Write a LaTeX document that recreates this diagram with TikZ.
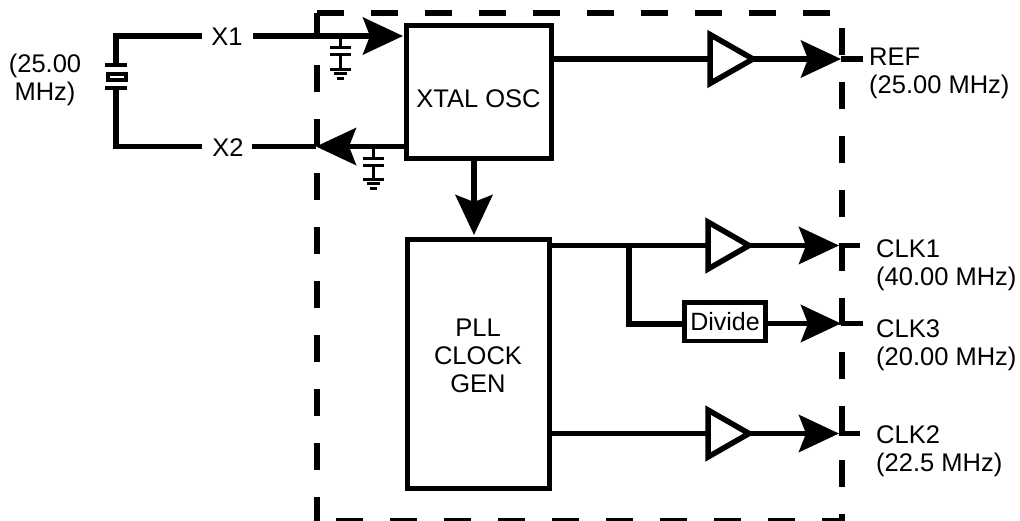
\documentclass[tikz,border=0pt]{standalone}
\usepackage{fontspec}
\setmainfont{Liberation Sans}
\usetikzlibrary{arrows.meta}
\tikzset{
  wire/.style={line width=5.5pt,draw=black},
  thin wire/.style={line width=3pt,draw=black},
  big/.tip={Stealth[length=40pt,width=37pt,inset=7pt]},
  arrowwire/.style={wire,-{big}},
  block/.style={draw=black,line width=5pt,fill=white,inner sep=0pt,align=center,font=\fontsize{25.5}{28}\selectfont},
  lab/.style={inner sep=0pt,align=left,font=\fontsize{25.5}{28}\selectfont},
  clab/.style={inner sep=0pt,align=center,font=\fontsize{25.5}{28}\selectfont},
  bound/.style={line width=5.5pt,draw=black,dash pattern=on 27pt off 27pt},
  buf/.style={line width=5.5pt,draw=black,fill=white,miter limit=10}
}
\begin{document}
\begin{tikzpicture}[x=1pt,y=-1pt]
\useasboundingbox (0,0) rectangle (1020,520);
% boundary
\draw[bound] (317,13) -- (842,13) -- (842,520.5) -- (317,520.5);
\draw[bound,dash phase=2pt] (317,13) -- (317,521);
% blocks
\node[block,minimum width=145pt,minimum height=133pt] (xtal) at (478.5,91.5) {\raisebox{-15.5pt}[0pt][0pt]{XTAL OSC}};
\node[block,minimum width=142pt,minimum height=249pt] (pll) at (478,363.5) {\raisebox{-1.5pt}[0pt][0pt]{\begin{tabular}{@{}c@{}}PLL\\CLOCK\\GEN\end{tabular}}};
\node[block,font=\fontsize{25}{28}\selectfont,line width=4.5pt,minimum width=81pt,minimum height=38.5pt] (div) at (725,321.5) {Divide};
% buffers
\coordinate (refin) at (710,59); \coordinate (refout) at (753,59);
\coordinate (c1in) at (708,245.5); \coordinate (c1out) at (749,245.5);
\coordinate (c2in) at (708,433.5); \coordinate (c2out) at (749,433.5);
% external coordinates
\coordinate (cryT) at (116,36); \coordinate (cryB) at (116,146.5);
\coordinate (x1w) at (202,36); \coordinate (x2w) at (202,146.5);
\coordinate (x1e) at (253,36); \coordinate (x2e) at (252,146.5);
\coordinate (x1tip) at (403,36); \coordinate (x2tip) at (316,146.5);
\coordinate (xout) at (552,59);
\coordinate (reftip) at (841,59); \coordinate (refstub) at (863,59);
\coordinate (c1tip) at (839,245.5); \coordinate (c1stub) at (860,245.5);
\coordinate (c3tip) at (841,323.5); \coordinate (c3stub) at (863,323.5);
\coordinate (c2tip) at (839,433.5); \coordinate (c2stub) at (860,433.5);
\coordinate (br) at (629,245.5); \coordinate (brd) at (629,324);
% crystal
\node[draw=black,line width=4pt,minimum width=18pt,minimum height=6pt,inner sep=0pt] (cry) at (116.5,77) {};
\coordinate (pT) at (116,65); \coordinate (pB) at (116,88);
\draw[wire] (x1w) -- (cryT) -- (pT);
\draw[wire] (x2w) -- (cryB) -- (pB);
\draw[line width=4pt] (105,65) -- (127,65);
\draw[line width=4pt] (105,88) -- (127,88);
% connectors
\draw[arrowwire] (x1e) -- (x1tip);
\draw[arrowwire] (xtal.west |- x2tip) -- (x2tip);
\draw[wire] (x2tip) -- (x2e);
\draw[arrowwire] (474,158) -- (474,235);
\draw[wire] (xout) -- (refin);
\draw[arrowwire] (refout) -- (reftip);
\draw[wire] (reftip) -- (refstub);
\draw[wire] (pll.east |- c1in) -- (c1in);
\draw[arrowwire] (c1out) -- (c1tip);
\draw[wire] (c1tip) -- (c1stub);
\draw[wire] (br) -- (brd) -- (div.west |- brd);
\draw[arrowwire] (div.east |- c3tip) -- (c3tip);
\draw[wire] (c3tip) -- (c3stub);
\draw[wire] (pll.east |- c2in) -- (c2in);
\draw[arrowwire] (c2out) -- (c2tip);
\draw[wire] (c2tip) -- (c2stub);
% buffers
\draw[buf] (710,59) -- (710,34.5) -- (753,59) -- (710,83.5) -- cycle;
\draw[buf] (708,245.5) -- (708,222) -- (749,245.5) -- (708,269) -- cycle;
\draw[buf] (708,433.5) -- (708,410) -- (749,433.5) -- (708,457) -- cycle;
% capacitors
\draw[thin wire] (340,36) -- (340,47) (330,47) -- (351,47) (330,54) -- (351,54) (340,54) -- (340,69) (330,69) -- (351,69) (334,73.5) -- (347,73.5) (337,78) -- (344,78);
\draw[thin wire] (373,146) -- (373,158) (363,158) -- (384,158) (363,165) -- (384,165) (373,165) -- (373,179) (363,179) -- (384,179) (367,183.5) -- (380,183.5) (370,188) -- (377,188);
% labels
\node[clab] (t251) at (45,80) {(25.00\\MHz)};
\node[lab] (tx1) at (227,37) {X1};
\node[lab] (tx2) at (228,147.5) {X2};
\node[lab,anchor=west] (tref) at (869,73) {REF\\(25.00 MHz)};
\node[lab,anchor=west] (tc1) at (876,265) {CLK1\\(40.00 MHz)};
\node[lab,anchor=west] (tc3) at (876,345) {CLK3\\(20.00 MHz)};
\node[lab,anchor=west] (tc2) at (876,451) {CLK2\\(22.5 MHz)};
\end{tikzpicture}
\end{document}
